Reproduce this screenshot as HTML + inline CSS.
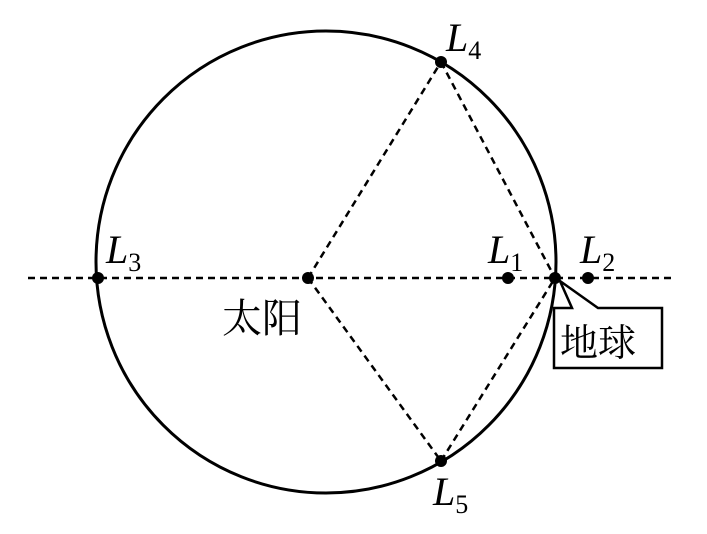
<!DOCTYPE html>
<html><head><meta charset="utf-8"><style>body{margin:0;background:#fff}svg{display:block}</style></head><body>
<svg width="707" height="534" xmlns="http://www.w3.org/2000/svg">
<ellipse cx="326" cy="262" rx="230" ry="231" fill="none" stroke="#000" stroke-width="3"/>
<g stroke="#000" stroke-width="2.5" stroke-dasharray="7,5" fill="none">
<line x1="28" y1="278" x2="676" y2="278"/>
<line x1="308" y1="278" x2="441" y2="62"/>
<line x1="308" y1="278" x2="441" y2="461"/>
<line x1="441" y1="62" x2="555" y2="278"/>
<line x1="441" y1="461" x2="555" y2="278"/>
</g>
<g fill="#000">
<circle cx="98" cy="278" r="6"/><circle cx="308" cy="278" r="6"/>
<circle cx="508" cy="278" r="6"/><circle cx="555" cy="278" r="6"/>
<circle cx="588" cy="278" r="6"/><circle cx="441" cy="62" r="6"/><circle cx="441" cy="461" r="6"/>
</g>
<path d="M572,308 L560,281 L598,308 L662,308 L662,368 L554,368 L554,308 Z" fill="#fff" stroke="#000" stroke-width="2.5"/>
<g font-family="Liberation Serif, serif" font-size="40" font-style="italic">
<text x="106" y="263">L<tspan font-style="normal" font-size="26" dy="8">3</tspan></text>
<text x="488" y="263">L<tspan font-style="normal" font-size="26" dy="8">1</tspan></text>
<text x="580" y="263">L<tspan font-style="normal" font-size="26" dy="8">2</tspan></text>
<text x="446" y="51">L<tspan font-style="normal" font-size="26" dy="8">4</tspan></text>
<text x="433" y="505">L<tspan font-style="normal" font-size="26" dy="8">5</tspan></text>
</g>
<g font-family="'Noto Serif CJK SC', 'Liberation Serif', serif" font-size="40">
<text x="222" y="332">太阳</text>
<text x="560" y="356" font-size="38">地球</text>
</g>
</svg>
</body></html>
